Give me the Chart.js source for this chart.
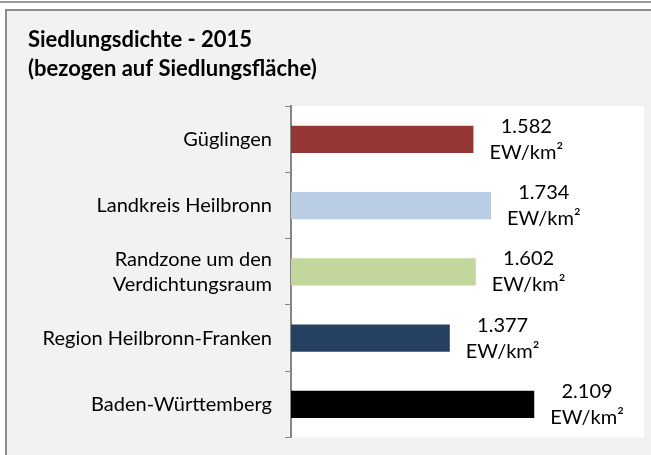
<!DOCTYPE html>
<html>
<head>
<meta charset="utf-8">
<script src="https://cdn.jsdelivr.net/npm/chart.js@4/dist/chart.umd.min.js"></script>
<style>
    body { margin: 0; background: #fff; overflow: hidden; }
    #topline { position: absolute; left: 0; top: 1px; width: 651px; height: 2px; background: #9a9a9a; }
    #box { position: absolute; left: 5px; top: 9px; width: 646px; height: 460px; box-sizing: border-box;
           border-left: 2px solid #8c8c8c; border-top: 2px solid #8c8c8c; background: #f2f2f2; }
    canvas { display: block; }
</style>
</head>
<body>
<div id="topline"></div>
<div id="box"><canvas id="bar-chart" width="644" height="452"></canvas></div>
<script>
var categories = ["Güglingen", "Landkreis Heilbronn", ["Randzone um den", "Verdichtungsraum"], "Region Heilbronn-Franken", "Baden-Württemberg"];
var values = [1582, 1734, 1602, 1377, 2109];
var barColors = ["#953735", "#b9cde5", "#c3d69b", "#254061", "#000000"];
var unit = "EW/km²";

function formatNumber(v) {
    return String(v).replace(/\B(?=(\d{3})+(?!\d))/g, ".");
}

// white plot area
var plotBackground = {
    id: "plotBackground",
    beforeDraw: function (chart) {
        var a = chart.chartArea;
        var ctx = chart.ctx;
        ctx.save();
        ctx.fillStyle = "#ffffff";
        ctx.fillRect(a.left, a.top, a.right - a.left + 7, a.bottom - a.top);
        ctx.restore();
    }
};

// two-line labels outside the bar end
var valueLabels = {
    id: "valueLabels",
    afterDatasetsDraw: function (chart) {
        var ctx = chart.ctx;
        var meta = chart.getDatasetMeta(0);
        ctx.save();
        ctx.font = "20px Lato";
        ctx.fillStyle = "#000";
        ctx.textAlign = "center";
        ctx.textBaseline = "middle";
        meta.data.forEach(function (bar, i) {
            var lines = [formatNumber(values[i]), unit];
            var w = Math.max(ctx.measureText(lines[0]).width, ctx.measureText(lines[1]).width);
            var cx = bar.x + 16 + w / 2;
            ctx.fillText(lines[0], cx, bar.y - 13);
            ctx.fillText(lines[1], cx, bar.y + 13);
        });
        ctx.restore();
    }
};

var ctx1 = document.getElementById("bar-chart").getContext("2d");
var myChart1 = new Chart(ctx1, {
    type: "bar",
    data: {
        labels: categories,
        datasets: [{
            data: values,
            backgroundColor: barColors,
            categoryPercentage: 1,
            barPercentage: 0.41
        }]
    },
    options: {
        indexAxis: "y",
        responsive: false,
        animation: false,
        layout: {
            padding: { left: 21, right: 14, top: 0, bottom: 0 }
        },
        plugins: {
            legend: { display: false },
            tooltip: { enabled: false },
            title: {
                display: true,
                align: "start",
                text: ["Siedlungsdichte - 2015", "(bezogen auf Siedlungsfläche)"],
                color: "#000",
                font: { family: "Lato", size: 22, weight: "bold", lineHeight: 1.3 },
                padding: { top: 15, bottom: 23 }
            }
        },
        scales: {
            x: {
                display: false,
                min: 0,
                max: 3000
            },
            y: {
                afterFit: function (scale) { scale.width = 263; },
                border: { display: true, color: "#868686", width: 2 },
                grid: { display: true, drawOnChartArea: false, offset: true, color: "#868686", tickLength: 6 },
                ticks: {
                    color: "#000",
                    padding: 13,
                    font: { family: "Lato", size: 20, lineHeight: 1.25 }
                }
            }
        }
    },
    plugins: [plotBackground, valueLabels]
});
</script>
</body>
</html>
